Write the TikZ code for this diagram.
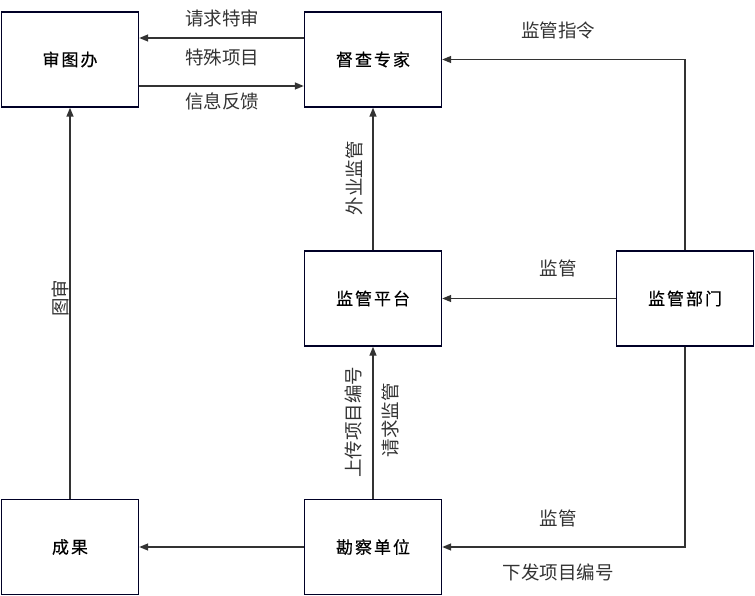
\documentclass[tikz,border=0pt]{standalone}
\usepackage{fontspec}
\setmainfont{Noto Sans CJK SC}
\newfontfamily\boxfont[FakeBold=0.4]{Noto Sans CJK SC}
\usetikzlibrary{arrows.meta}
\begin{document}
\begin{tikzpicture}[x=1pt,y=-1pt,
  box/.style={draw=black!85!blue, line width=1.4pt, minimum width=137pt, minimum height=95pt, inner sep=0pt, font=\boxfont\fontsize{17}{19}\selectfont},
  arr/.style={draw=black!80, line width=1.4pt, -{Triangle[length=9pt,width=7pt]}},
  lbl/.style={font=\fontsize{18.5}{20}\selectfont, text=black!80, inner sep=0pt}]
\useasboundingbox (0,0) rectangle (755,596);
\newcommand{\bxsp}{\hspace{2pt}}
\node[box] (st) at (70,59.5) {审\bxsp 图\bxsp 办};
\node[box] (dc) at (373,59.5) {督\bxsp 查\bxsp 专\bxsp 家};
\node[box] (pt) at (373,298.5) {监\bxsp 管\bxsp 平\bxsp 台};
\node[box] (bm) at (685,298.5) {监\bxsp 管\bxsp 部\bxsp 门};
\node[box] (cg) at (70,547) {成\bxsp 果};
\node[box] (kc) at (373,547) {勘\bxsp 察\bxsp 单\bxsp 位};
% top arrows
\draw[arr] (dc.west |- 0,38) -- (st.east |- 0,38);
\draw[arr] (st.east |- 0,86) -- (dc.west |- 0,86);
\node[lbl] (l1) at (222,18) {请求特审};
\node[lbl] (l2) at (222,58) {特殊项目};
\node[lbl] (l3) at (222,101) {信息反馈};
% 监管部门 -> 督查专家
\draw[arr] (bm.north) |- (dc.east);
\node[lbl] (l4) at (558,30) {监管指令};
% 监管平台 -> 督查专家
\draw[arr] (pt.north) -- (dc.south);
\node[lbl, rotate=90] (l5) at (354,178) {外业监管};
% 监管部门 -> 监管平台
\draw[arr] (bm.west) -- (pt.east);
\node[lbl] (l6) at (558,268) {监管};
% 勘察单位 -> 监管平台
\draw[arr] (kc.north) -- (pt.south);
\node[lbl, rotate=90] (l7) at (353,422) {上传项目编号};
\node[lbl, rotate=90] (l8) at (390,420) {请求监管};
% 监管部门 -> 勘察单位
\draw[arr] (bm.south) |- (kc.east);
\node[lbl] (l9) at (558,518) {监管};
\node[lbl] (l10) at (558,572) {下发项目编号};
% 勘察单位 -> 成果
\draw[arr] (kc.west) -- (cg.east);
% 成果 -> 审图办
\draw[arr] (cg.north) -- (st.south);
\node[lbl, rotate=90] (l11) at (60,298) {图审};
\end{tikzpicture}
\end{document}
